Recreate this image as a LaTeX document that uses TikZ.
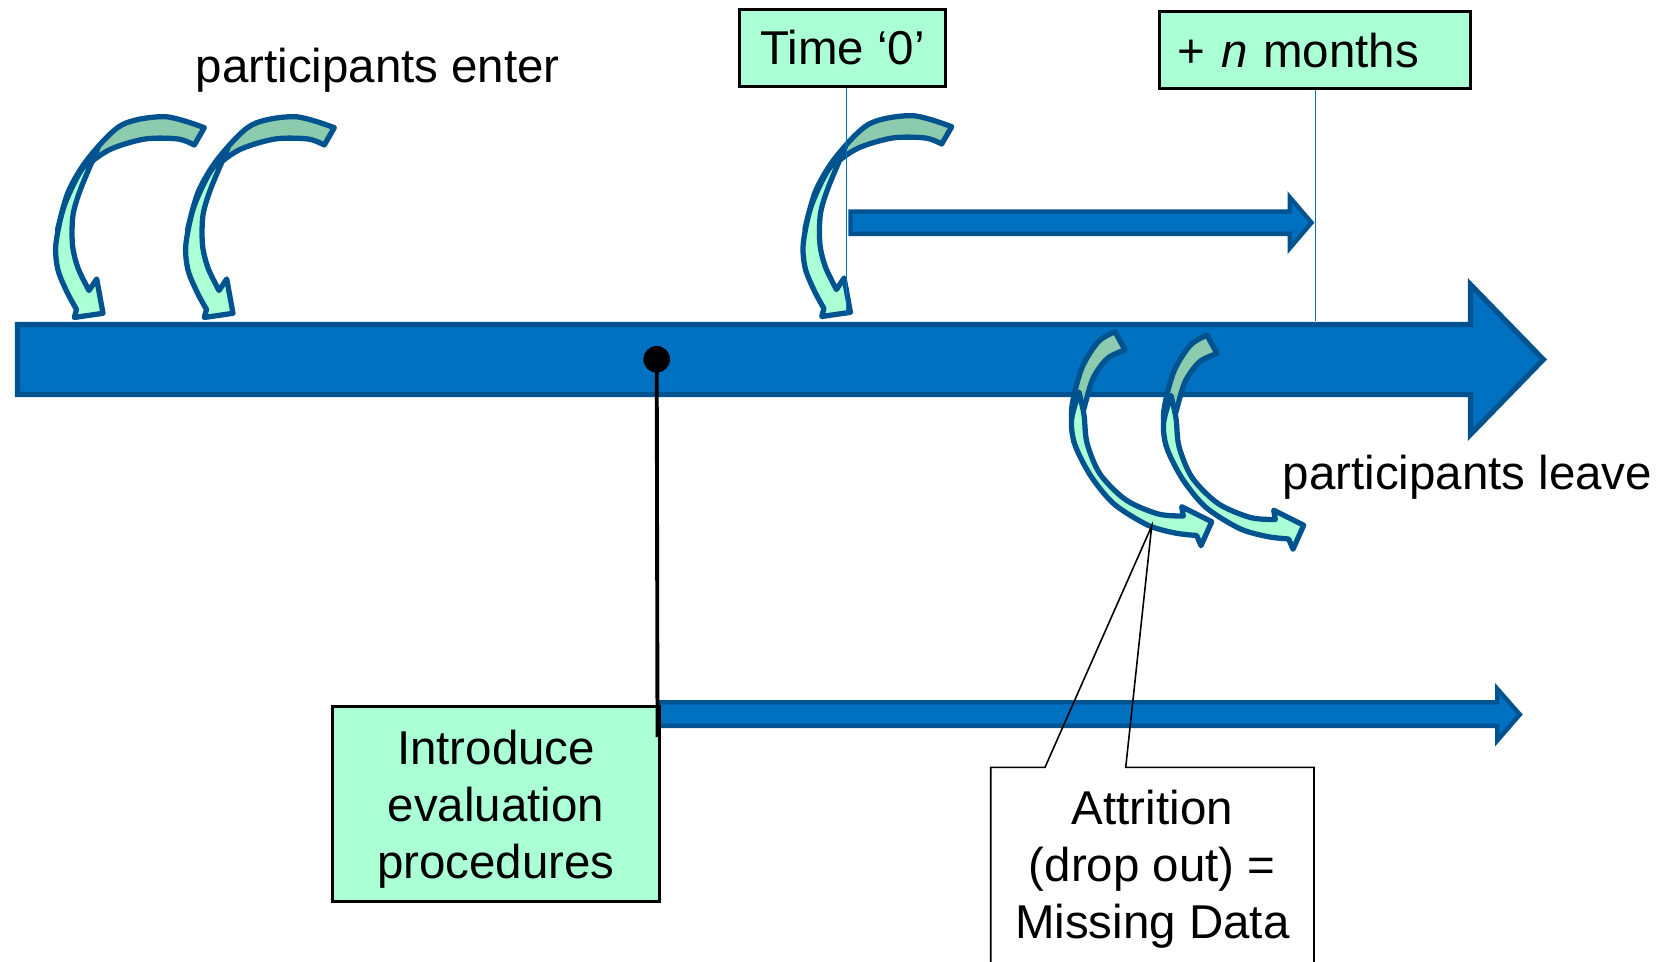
\documentclass[tikz,border=0pt]{standalone}
\usepackage{fontspec}
\setmainfont{Liberation Sans}
\definecolor{mainblue}{HTML}{0070C0}
\definecolor{edgeblue}{HTML}{00538F}
\definecolor{mint}{HTML}{AAFFD5}
\definecolor{backgreen}{HTML}{8CCBAE}
\tikzset{
  blockarrow/.style={fill=mainblue, draw=edgeblue, line width=1.25pt, line join=miter},
  curvefront/.style={fill=mint, draw=edgeblue, line width=1.5pt, line join=round},
  curveback/.style={fill=backgreen, draw=edgeblue, line width=1.5pt, line join=round},
  mintbox/.style={draw=black, fill=mint, line width=0.85pt, inner sep=0pt},
  txt/.style={font=\fontsize{13.5}{16.2}\selectfont, inner sep=0pt},
  guide/.style={draw=mainblue, line width=0.45pt},
}
\newcommand\EnterArrow{%
  \filldraw[curveback] plot[smooth] coordinates {(204.3,127.7) (165,116.7) (121.7,125) (88.3,158.3) (68.3,191.7) (57.5,230)}
    -- plot[smooth] coordinates {(57.5,230) (67,197) (85,168) (110,149.5) (145,139) (178,139) (194.3,145)} -- cycle;
  \filldraw[curvefront] plot[smooth] coordinates {(98,148) (79,174) (63.5,208) (55.8,245) (58,270) (67,292) (76.5,309.5)}
    -- (74.3,317.5) -- (103,313.3) -- (96.7,279) -- (89,290.5)
    -- plot[smooth] coordinates {(89,290.5) (78,268) (72.5,245) (73,215) (81,188) (98,148)} -- cycle;
}
\newcommand\LeaveArrow{%
  \filldraw[curveback] plot[smooth] coordinates {(1115,331.7) (1098.3,341.7) (1081.7,368.3) (1071.7,408.3) (1074,442)}
    -- plot[smooth] coordinates {(1074,442) (1083.5,410) (1093,378.3) (1107.5,358.3) (1125,350)} -- cycle;
  \filldraw[curvefront] plot[smooth] coordinates {(1079,392) (1071.5,420) (1075,445) (1090.8,476) (1114,504) (1147.5,525) (1175,533) (1196.7,535.5)}
    -- (1201,545.7) -- (1211.7,521.7) -- (1181.7,506.7) -- (1183.3,516)
    -- plot[smooth] coordinates {(1183.3,516) (1158.3,514) (1126,500) (1100,474) (1087,443) (1084,415) (1079,392)} -- cycle;
}
\begin{document}
\begin{tikzpicture}[x=0.01cm, y=-0.01cm]
\useasboundingbox (0,0) rectangle (1671,961);
\clip (0,0) rectangle (1671,961);
\fill[white] (0,0) rectangle (1671,961);

% main timeline arrow
\draw[blockarrow, line width=1.5pt] (17.6,324.6) -- (1470.5,324.6) -- (1470.5,284.6) -- (1543.3,359.5)
  -- (1470.5,434.4) -- (1470.5,394.4) -- (17.6,394.4) -- cycle;

% lower arrow
\draw[blockarrow] (659,702.2) -- (1497.2,702.2) -- (1497.2,688.8) -- (1519.8,714.5)
  -- (1497.2,740.6) -- (1497.2,725.8) -- (659,725.8) -- cycle;

% upper arrow
\draw[blockarrow] (850.5,211.5) -- (1289.7,211.5) -- (1289.7,197.2) -- (1311.5,222.7)
  -- (1289.7,248.2) -- (1289.7,233.9) -- (850.5,233.9) -- cycle;

% entering arrows
\EnterArrow
\begin{scope}[shift={(130,0)}]\EnterArrow\end{scope}
\begin{scope}[shift={(747.4,-1)}]\EnterArrow\end{scope}

% leaving arrows
\begin{scope}[shift={(92,3.5)}]\LeaveArrow\end{scope}
\LeaveArrow

% boxes
\node[mintbox, minimum width=2.057cm, minimum height=0.767cm, txt] (t0) at (842.45,47.95) {Time ‘0’};
\node[mintbox, minimum width=3.112cm, minimum height=0.768cm, txt, text width=2.75cm, align=left] (nm) at (1315.1,50.1) {+ \textit{n} months};
\node[mintbox, minimum width=3.266cm, minimum height=1.95cm] (intro) at (496,804.2) {};
\node[txt, align=center] (introtxt) at (496,809) {Introduce\\evaluation\\procedures};

% guide lines
\coordinate (t0foot) at (846.5,316);
\coordinate (nmfoot) at (1315.5,321);
\draw[guide] (t0foot |- t0.south) -- (t0foot);
\draw[guide] (nmfoot |- nm.south) -- (nmfoot);

% dot and connector
\node[circle, fill=black, minimum size=0.266cm, inner sep=0pt] (dot) at (656.7,359.3) {};
\coordinate (dotfoot) at (657.5,737);
\draw[line width=1.1pt] (dot.center) -- (dotfoot);

% attrition callout
\coordinate (calltip) at (1151.7,526);
\draw[line width=0.45pt, line join=miter] (990.7,980) -- (990.7,767.3) -- (1045,767.3) -- (calltip)
  -- (1125.7,767.3) -- (1314,767.3) -- (1314,980);
\node[txt, align=center] (attr) at (1152.3,869.5) {Attrition\\(drop out) =\\Missing Data};

% free labels
\node[txt, anchor=base west] (enter) at (195,83) {participants enter};
\node[txt, anchor=base west] (leave) at (1282,489) {participants leave};
\end{tikzpicture}
\end{document}
